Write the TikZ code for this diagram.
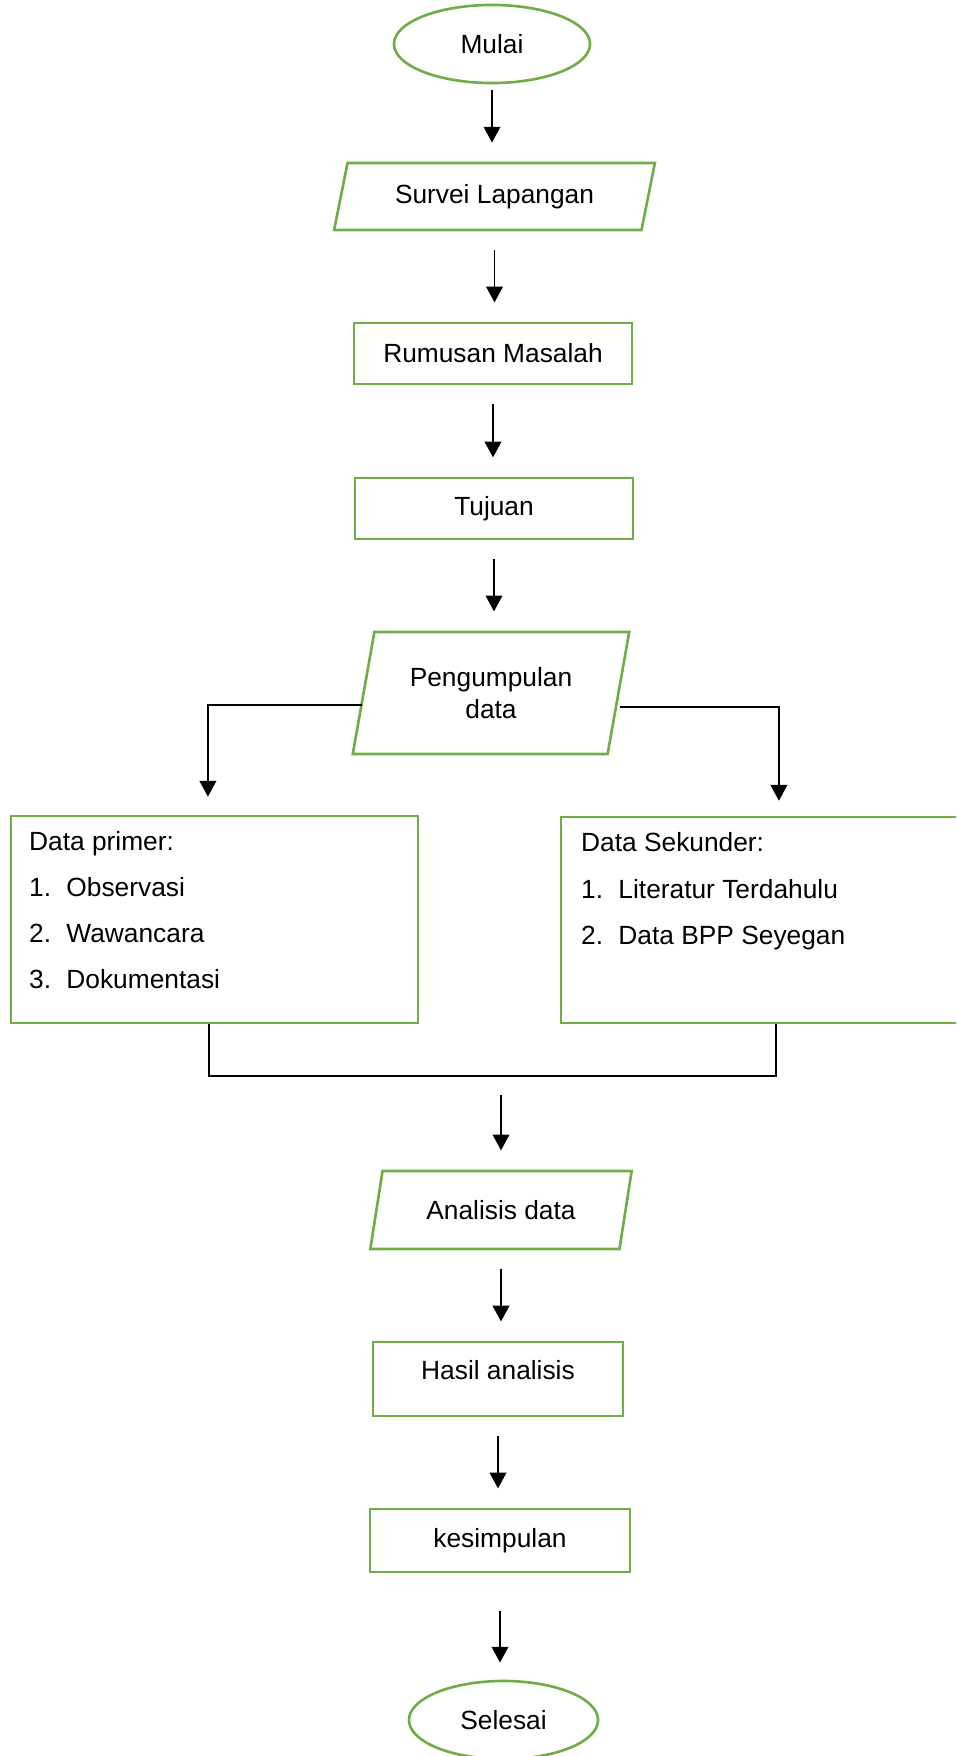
\documentclass[tikz,border=0pt]{standalone}
\usepackage{fontspec}
\setmainfont{Liberation Sans}
\usetikzlibrary{shapes.geometric,arrows.meta}
\definecolor{boxgreen}{HTML}{70AD47}

\begin{document}
\begin{tikzpicture}[x=0.456pt,y=-0.456pt,>={Triangle[length=7.2pt,width=7.6pt]}]
\useasboundingbox (0,0) rectangle (956,1756);
\clip (0,0) rectangle (956,1756);
\begin{scope}
\tikzstyle{every node} = [font=\fontsize{12}{14.5}\selectfont]
\tikzstyle{term} = [ellipse,draw=boxgreen,line width=1.2pt,minimum height=35.6pt]
\tikzstyle{io} = [trapezium,trapezium left angle=76,trapezium right angle=104,trapezium stretches=true,draw=boxgreen,line width=1.2pt,align=center]
\tikzstyle{process} = [rectangle,draw=boxgreen,line width=1.2pt]
\tikzstyle{item} = [anchor=base west,inner sep=0pt]
\tikzstyle{flow} = [->,line width=0.75pt,shorten <=8.5pt,shorten >=8.8pt]
\tikzstyle{link} = [line width=0.75pt]

\node [term,minimum width=89.4pt] (mulai) at (492,44) {Mulai};
\node [io,minimum width=146.4pt,minimum height=30.6pt] (survei) at (494.5,196.5) {Survei Lapangan};
\node [process,minimum width=126.8pt,minimum height=27.8pt] (rumusan) at (493,353.5) {Rumusan Masalah};
\node [process,minimum width=126.8pt,minimum height=27.8pt] (tujuan) at (494,508.5) {Tujuan};
\node [io,minimum width=126.8pt,minimum height=55.6pt] (kumpul) at (491,693) {Pengumpulan\\data};

\draw [flow,shorten <=2.7pt,shorten >=8.7pt] (mulai.south) -- (mulai.south |- survei.north);
\draw [flow] (survei.south) -- (survei.south |- rumusan.north);
\draw [flow] (rumusan.south) -- (rumusan.south |- tujuan.north);
\draw [flow] (tujuan.south) -- (tujuan.south |- kumpul.north);

%data primer
\node [process,minimum width=185.6pt,minimum height=94.4pt] (primer) at (214.5,919.5) {};
\node [item] (pt0) at ([xshift=8.7pt,yshift=-16.4pt]primer.north west) {Data primer:};
\node [item] (p1) at ([yshift=-21pt]pt0.base west) {\makebox[17pt][l]{1.}Observasi};
\node [item] (p2) at ([yshift=-21pt]p1.base west) {\makebox[17pt][l]{2.}Wawancara};
\node [item] (p3) at ([yshift=-21pt]p2.base west) {\makebox[17pt][l]{3.}Dokumentasi};

%data sekunder
\node [process,minimum width=191.5pt,minimum height=94pt] (sekunder) at (771,920) {};
\node [item] (st0) at ([xshift=9.6pt,yshift=-16.4pt]sekunder.north west) {Data Sekunder:};
\node [item] (s1) at ([yshift=-21.2pt]st0.base west) {\makebox[17pt][l]{1.}Literatur Terdahulu};
\node [item] (s2) at ([yshift=-21.2pt]s1.base west) {\makebox[17pt][l]{2.}Data BPP Seyegan};

\draw [flow,shorten <=0pt,shorten >=8.2pt] ([yshift=-5.5pt]kumpul.west) -| ([xshift=-3pt]primer.north);
\draw [flow,shorten <=0pt,shorten >=6.8pt] ([yshift=-6.4pt]kumpul.east) -| ([xshift=3.6pt]sekunder.north);

\coordinate (join) at (492,1076);
\draw [link] ([xshift=-2.5pt]primer.south) |- (join) -| ([xshift=2.3pt]sekunder.south);

%analisis
\node [io,minimum width=119.5pt,minimum height=35.6pt] (analisis) at (501,1210) {Analisis data};
\node [process,minimum width=114pt,minimum height=33.7pt,text depth=8pt] (hasil) at (498,1379) {Hasil analisis};
\node [process,minimum width=118.6pt,minimum height=28.7pt] (simpulan) at (500,1540.5) {kesimpulan};
\node [term,minimum width=86.2pt] (selesai) at (503.5,1720) {Selesai};

\draw [flow] (join -| analisis.north) -- (analisis.north);
\draw [flow] (analisis.south) -- (analisis.south |- hasil.north);
\draw [flow] (hasil.south) -- (hasil.south |- simpulan.north);
\draw [flow,shorten <=17.3pt,shorten >=7.8pt] (simpulan.south) -- (simpulan.south |- selesai.north);
\end{scope}
\end{tikzpicture}
\end{document}
